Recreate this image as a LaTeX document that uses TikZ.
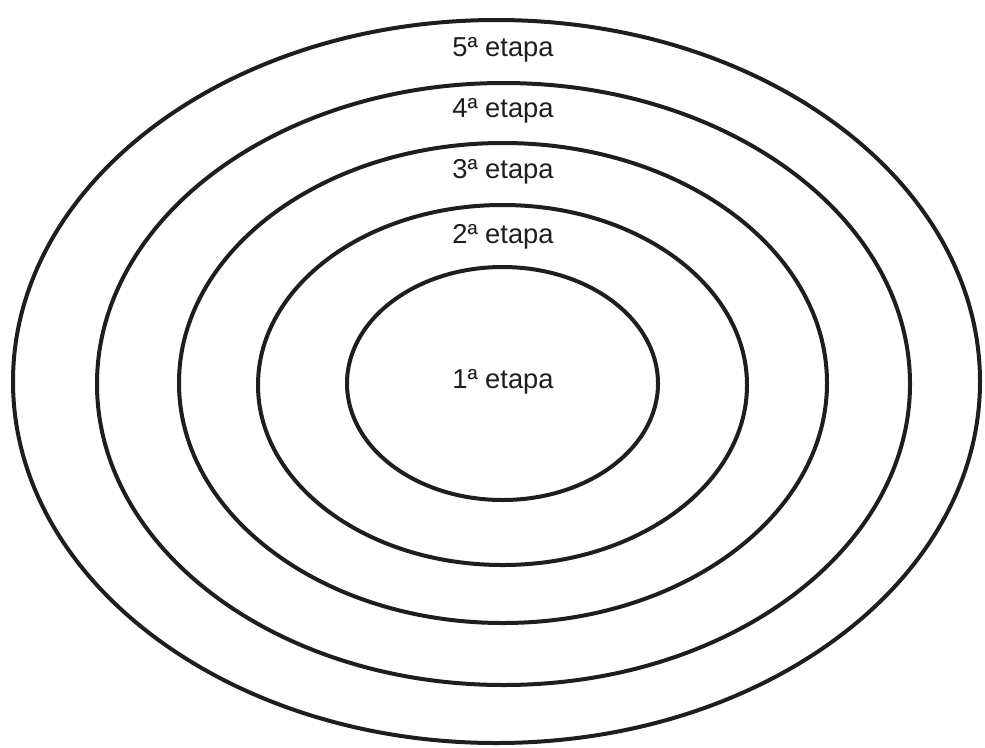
\documentclass[tikz,border=0pt]{standalone}
\usepackage{fontspec}
\setmainfont{Liberation Sans}
\usepackage{tikz}
\usetikzlibrary{shapes.geometric}
\definecolor{ink}{HTML}{1E1E1E}

\begin{document}
\begin{tikzpicture}[
    x=0.75pt, y=-0.75pt,
    ring/.style={draw=ink, ellipse, line width=3pt, inner sep=0pt},
    lbl/.style={font=\fontsize{20.5}{24}\selectfont, text=ink, inner sep=1pt}
  ]
    \useasboundingbox (0,0) rectangle (985,747);

    \node[ring, minimum width=725.25pt, minimum height=542.25pt] (ring5) at (496.5,381.5) {};
    \node[ring, minimum width=609.75pt, minimum height=451.5pt] (ring4) at (503.5,384) {};
    \node[ring, minimum width=486pt, minimum height=360pt] (ring3) at (503,383) {};
    \node[ring, minimum width=366.75pt, minimum height=270pt] (ring2) at (502.5,385) {};
    \node[ring, minimum width=233.25pt, minimum height=174.75pt] (ring1) at (502.5,383.5) {};

    \node[lbl] (stage5) at (503,50) {5ª etapa};
    \node[lbl] (stage4) at (503,111) {4ª etapa};
    \node[lbl] (stage3) at (503,172) {3ª etapa};
    \node[lbl] (stage2) at (503,237) {2ª etapa};
    \node[lbl] (stage1) at (503,382) {1ª etapa};
  \end{tikzpicture}
\end{document}
